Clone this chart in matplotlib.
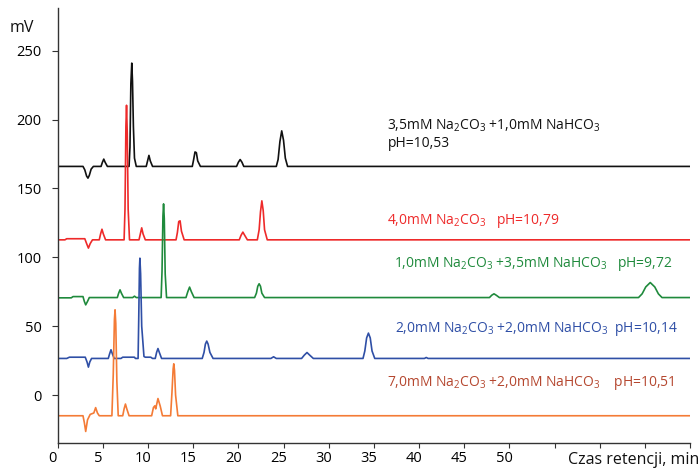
import matplotlib
matplotlib.use('Agg')
import matplotlib.pyplot as plt
from matplotlib.transforms import ScaledTranslation

plt.rcParams['font.family'] = ['Open Sans', 'DejaVu Sans']
plt.rcParams['mathtext.fontset'] = 'custom'
plt.rcParams['mathtext.rm'] = 'Open Sans'
plt.rcParams['mathtext.it'] = 'Open Sans'
plt.rcParams['mathtext.bf'] = 'Open Sans'

# ---- data (retention time [min], signal [mV]) ----
black_x = [0, 2.8, 3.0, 3.2, 3.35, 3.5, 3.7, 3.95, 4.8, 4.95, 5.1, 5.25, 5.5,
           7.9, 8.0, 8.1, 8.2, 8.28, 8.38, 8.5, 8.7,
           9.8, 9.95, 10.1, 10.25, 10.5, 14.9, 15.05, 15.2, 15.35, 15.5, 15.8,
           19.8, 20.0, 20.2, 20.4, 20.6,
           24.2, 24.4, 24.6, 24.8, 25.0, 25.2, 25.45, 70]
black_y = [166, 166, 163.5, 159, 157.5, 159.5, 164, 166, 166, 169, 171.3, 169, 166,
           166, 180, 226, 241, 228, 195, 172, 166,
           166, 170, 174, 170, 166, 166, 171, 176.5, 176, 170, 166,
           166, 169, 171, 169, 166,
           166, 171, 184, 191.8, 185, 172, 166, 166]

red_x = [0, 0.8, 1.0, 3.0, 3.2, 3.4, 3.6, 3.85, 4.6, 4.75, 4.9, 5.05, 5.3,
         7.35, 7.45, 7.55, 7.62, 7.7, 7.8, 7.95,
         9.0, 9.15, 9.3, 9.45, 9.7, 13.1, 13.25, 13.4, 13.55, 13.7, 14.0,
         20.1, 20.3, 20.5, 20.7, 21.0,
         22.1, 22.3, 22.45, 22.6, 22.75, 22.9, 23.2, 70]
red_y = [112.7, 112.7, 113.5, 113.5, 110, 106.7, 110, 112.7, 112.7, 117, 120.4, 117, 112.7,
         112.7, 135, 195, 210.4, 190, 135, 112.7,
         112.7, 117, 121.4, 117, 112.7, 112.7, 118, 126, 126.5, 119, 112.7,
         112.7, 116, 118.3, 116, 112.7,
         112.7, 120, 133, 141, 134, 120, 112.7, 112.7]

green_x = [0, 1.5, 1.7, 2.8, 2.95, 3.1, 3.3, 3.5, 6.6, 6.75, 6.9, 7.05, 7.3, 8.3, 8.5, 8.7,
           11.45, 11.55, 11.65, 11.72, 11.8, 11.9, 12.05,
           14.2, 14.4, 14.6, 14.8, 15.1,
           21.8, 22.0, 22.15, 22.3, 22.45, 22.6, 22.9,
           47.8, 48.05, 48.3, 48.55, 48.9,
           64.3, 64.7, 65.1, 65.6, 66.1, 66.5, 66.9, 70]
green_y = [70.6, 70.6, 71.5, 71.5, 68, 65.5, 68, 70.8, 70.8, 74, 76.4, 74, 70.8, 70.8, 71.8, 70.8,
           70.8, 90, 130, 138.8, 128, 88, 70.8,
           70.8, 75, 78.4, 75, 70.8,
           70.8, 74, 79, 80.8, 79, 74, 70.8,
           70.8, 72.5, 73.5, 72.5, 70.8,
           70.8, 73.5, 78.5, 81.7, 78.5, 73.5, 70.8, 70.8]

blue_x = [0, 1.0, 1.3, 3.05, 3.25, 3.4, 3.55, 3.75, 5.6, 5.75, 5.9, 6.05, 6.25, 7.0, 7.2, 8.5, 8.6,
          8.9, 8.97, 9.05, 9.1, 9.18, 9.3, 9.55, 9.7, 10.3, 10.5,
          10.8, 10.95, 11.1, 11.25, 11.5,
          16.0, 16.2, 16.35, 16.5, 16.65, 16.85, 17.2,
          23.6, 23.9, 24.2, 27.0, 27.3, 27.6, 27.9, 28.3,
          33.8, 34.0, 34.2, 34.4, 34.6, 34.8, 35.1, 40.6, 40.8, 41.0, 70]
blue_y = [26.6, 26.6, 27.5, 27.5, 24, 20.3, 24, 26.6, 26.6, 30, 32.9, 30, 26.6, 26.6, 27.5, 27.5, 26.6,
          26.6, 55, 92, 99.4, 88, 50, 28, 27.5, 27.5, 26.6,
          26.6, 31, 33.8, 31, 26.6,
          26.6, 31, 37, 39.2, 37, 31, 26.6,
          26.6, 27.8, 26.6, 26.6, 29, 30.9, 29, 26.6,
          26.6, 32, 41.5, 45, 41.5, 32, 26.6, 26.6, 27.3, 26.6, 26.6]

orange_x = [0, 2.8, 2.95, 3.1, 3.3, 3.6, 4.0, 4.2, 4.4, 4.6,
            6.0, 6.15, 6.28, 6.35, 6.43, 6.55, 6.7,
            7.2, 7.35, 7.5, 7.65, 7.9, 10.4, 10.6, 10.75, 10.85, 11.1, 11.35, 11.6,
            12.5, 12.65, 12.78, 12.85, 12.93, 13.05, 13.3, 70]
orange_y = [-15, -15, -20, -26.4, -18, -14, -13, -9.1, -13, -15,
            -15, 15, 55, 61.9, 52, 10, -15,
            -15, -10, -6.5, -10, -15, -15, -9, -7.8, -10, -2.5, -8, -15,
            -15, 2, 19, 22.7, 18, 0, -15, -15]

series_colors = ['#111111', '#ee2a2a', '#1f8a3c', '#2f4fa6', '#f47b36']

labels = [
    (r'3,5mM Na$_2$CO$_3$ +1,0mM NaHCO$_3$', 36.5, 195.4, '#111111'),
    (r'pH=10,53', 36.5, 182.9, '#111111'),
    (r'4,0mM Na$_2$CO$_3$   pH=10,79', 36.5, 126.7, '#ee2a2a'),
    (r'1,0mM Na$_2$CO$_3$ +3,5mM NaHCO$_3$   pH=9,72', 37.2, 95.3, '#1f8a3c'),
    (r'2,0mM Na$_2$CO$_3$ +2,0mM NaHCO$_3$  pH=10,14', 37.35, 47.9, '#2f4fa6'),
    (r'7,0mM Na$_2$CO$_3$ +2,0mM NaHCO$_3$    pH=10,51', 36.5, 8.7, '#b5472f'),
]

xticks = [0, 5, 10, 15, 20, 25, 30, 35, 40, 45, 50, 55, 60, 65, 70]
xticklabels = ['0', '5', '10', '15', '20', '25', '30', '35', '40', '45', '50', '', '', '', '']
yticks = [0, 50, 100, 150, 200, 250]

fig = plt.figure(figsize=(6.98, 4.68), dpi=100)
ax = fig.add_axes([57.7 / 698, 1 - 443.3 / 468, (690 - 57.7) / 698, (443.3 - 8) / 468])

for xs, ys, c in zip([black_x, red_x, green_x, blue_x, orange_x],
                     [black_y, red_y, green_y, blue_y, orange_y], series_colors):
    ax.plot(xs, ys, color=c, lw=1.2, solid_joinstyle='round')

ax.set_xlim(0, 70)
ax.set_ylim(-35, 281)
ax.set_xticks(xticks)
ax.set_xticklabels(xticklabels)
ax.set_yticks(yticks)
for sp in ['top', 'right']:
    ax.spines[sp].set_visible(False)
for sp in ['left', 'bottom']:
    ax.spines[sp].set_color('#333333')
    ax.spines[sp].set_linewidth(1.0)
ax.tick_params(axis='x', length=3.5, width=0.8, color='#333333', labelsize=10.5, pad=2)
ax.tick_params(axis='y', length=4.5, width=0.8, color='#333333', labelsize=10.5, pad=7)
off = ScaledTranslation(-5 / 100, 0, fig.dpi_scale_trans)
for lab in ax.get_xticklabels():
    lab.set_transform(lab.get_transform() + off)

for txt, x, y, c in labels:
    ax.text(x, y, txt, color=c, fontsize=10, ha='left', va='center')

fig.text(10 / 698, 1 - 28 / 468, 'mV', fontsize=11.5, ha='left', va='center', color='#111111')
fig.text(568 / 698, 1 - 460 / 468, 'Czas retencji, min', fontsize=11.5, ha='left', va='center', color='#111111')

fig.savefig('out.png', dpi=100)
